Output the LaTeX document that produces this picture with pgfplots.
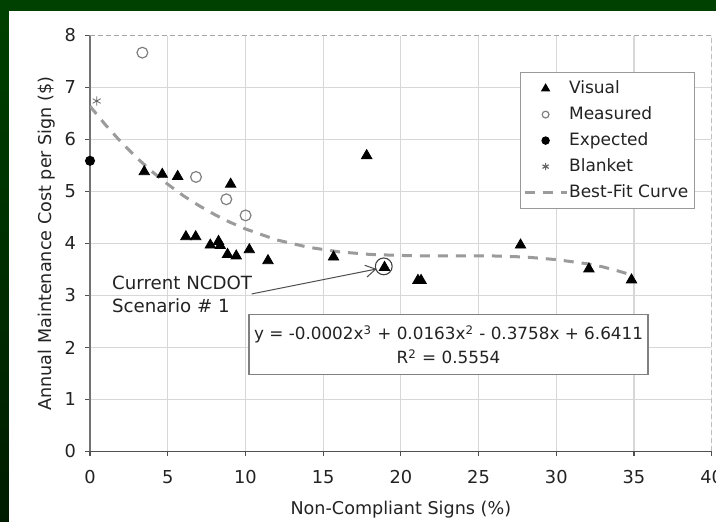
\documentclass[border=0pt]{standalone}
\usepackage{fontspec}
\setmainfont{DejaVu Sans}
\usepackage{pgfplots}
\pgfplotsset{compat=1.18}
\usetikzlibrary{arrows.meta}
\definecolor{bggreen}{RGB}{0,64,0}
\definecolor{bggreendark}{RGB}{0,28,0}
\definecolor{gridgray}{RGB}{215,215,215}
\definecolor{fitgray}{RGB}{155,155,155}
\definecolor{axisgray}{RGB}{80,80,80}
\definecolor{txt}{RGB}{35,35,35}
\pgfplotsset{
  markimg/.style={legend image code/.code={\draw[##1, mark size=#1] plot coordinates {(10.5pt,0pt)};}},
  lineimg/.style={legend image code/.code={\draw[##1] (0pt,0pt) -- (21pt,0pt);}},
}

\begin{document}
\begin{tikzpicture}
\path[use as bounding box] (0,0) rectangle (358pt,261pt);
\fill[bggreen] (0,0) rectangle (358pt,261pt);
\shade[top color=bggreen,bottom color=bggreendark] (0,0) rectangle (4.5pt,255.5pt);
\fill[white] (4.5pt,0) rectangle (358pt,255.5pt);
\begin{axis}[
  at={(45pt,35.25pt)}, anchor=south west,
  width=310.85pt, height=208pt, scale only axis,
  xmin=0, xmax=40, ymin=0, ymax=8,
  xtick={0,5,...,40}, ytick={0,1,...,8},
  axis x line*=bottom, axis y line*=left,
  x axis line style={-, draw=axisgray, line width=0.7pt},
  y axis line style={-, draw=axisgray!80, line width=0.7pt},
  tick align=outside, major tick length=2.5pt,
  every tick/.style={axisgray, line width=0.6pt},
  grid=major, major grid style={gridgray, line width=0.6pt},
  tick label style={font=\fontsize{8.9}{10}\selectfont, text=txt},
  /pgf/number format/assume math mode=true,
  xticklabel shift=3.25pt, yticklabel shift=1pt,
  xlabel={Non-Compliant Signs (\%)},
  ylabel={Annual Maintenance Cost per Sign (\$)},
  label style={font=\fontsize{8.8}{10}\selectfont, text=txt},
  xlabel style={at={(axis description cs:0.5,-0.1526)}, anchor=base},
  ylabel style={at={(axis description cs:-0.0616,0.5)}, anchor=base},
  legend cell align=left,
  legend style={at={(0.9731,0.9123)}, anchor=north east, draw=gray!80,
    line width=0.6pt, fill=white, font=\fontsize{8.5}{10}\selectfont,
    text=txt, inner sep=1.5pt, row sep=0pt, column sep=-1pt,
    nodes={inner xsep=1.5pt, inner ysep=2.25pt, text height=6.5pt, text depth=2pt}},
]
\draw[white, line width=0.8pt] (rel axis cs:0,1) -- (rel axis cs:1,1) -- (rel axis cs:1,0);
\draw[gray!70, dash pattern=on 2.5pt off 1.5pt, line width=0.5pt] (rel axis cs:0,1) -- (rel axis cs:1,1) -- (rel axis cs:1,0);

\addplot[only marks, mark=triangle*, mark size=3pt, black, markimg=2.1pt]
  coordinates {
  (3.49,5.38) (4.65,5.33) (5.64,5.29) (6.17,4.13) (6.8,4.13) (7.74,3.97)
  (8.27,4.04) (8.38,3.96) (8.85,3.79) (9.41,3.76) (9.05,5.14) (10.25,3.88)
  (11.45,3.67) (15.67,3.74) (17.8,5.69) (18.95,3.54) (21.1,3.29) (21.3,3.29)
  (27.7,3.97) (32.1,3.51) (34.84,3.30)};
\addlegendentry{Visual}

\addplot[only marks, mark=o, mark size=2.7pt, draw=gray, mark options={line width=0.6pt}, markimg=1.7pt]
  coordinates {(3.37,7.67) (6.82,5.28) (8.77,4.85) (10.01,4.54)};
\addlegendentry{Measured}

\addplot[only marks, mark=*, mark size=2.3pt, black, markimg=1.8pt]
  coordinates {(0,5.59)};
\addlegendentry{Expected}

\addplot[only marks, mark=asterisk, mark size=2.3pt, gray!80!black, markimg=1.8pt]
  coordinates {(0.43,6.74)};
\addlegendentry{Blanket}

\addplot[fitgray, line width=1.5pt, dash pattern=on 5pt off 4pt, lineimg]
  coordinates {
  (0,6.64) (1,6.28) (2,5.95) (3,5.65) (4,5.38) (5,5.14) (6,4.92) (7,4.73)
  (8,4.56) (9,4.41) (10,4.28) (12,4.07) (14,3.93) (16,3.84) (18,3.79)
  (20,3.77) (22,3.76) (24,3.76) (26,3.76) (28,3.74) (30,3.69) (31,3.65)
  (32,3.61) (33,3.55) (34,3.47) (35,3.38)};
\addlegendentry{Best-Fit Curve}

\addplot[only marks, mark=o, mark size=4.2pt, draw=black!75,
  mark options={line width=0.55pt}, forget plot] coordinates {(18.9,3.56)};

\draw[-{Straight Barb[length=5pt,width=6pt]}, black!70, line width=0.5pt]
  (axis cs:10.4,3.03) -- (axis cs:18.44,3.51);
\node[anchor=base west, inner sep=0pt, font=\fontsize{9.1}{10}\selectfont, text=txt]
  at (axis cs:1.40,3.12) {Current NCDOT};
\node[anchor=base west, inner sep=0pt, font=\fontsize{9.1}{10}\selectfont, text=txt]
  at (axis cs:1.40,2.68) {Scenario \# 1};

\node[draw=gray, fill=white, line width=0.6pt, minimum width=199.5pt,
  minimum height=30pt, align=center, inner sep=0pt,
  font=\fontsize{8.4}{12}\selectfont, text=txt]
  at (axis cs:23.07,2.05)
  {y = -0.0002x\textsuperscript{3} + 0.0163x\textsuperscript{2} - 0.3758x + 6.6411\\R\textsuperscript{2} = 0.5554};
\end{axis}
\end{tikzpicture}
\end{document}
